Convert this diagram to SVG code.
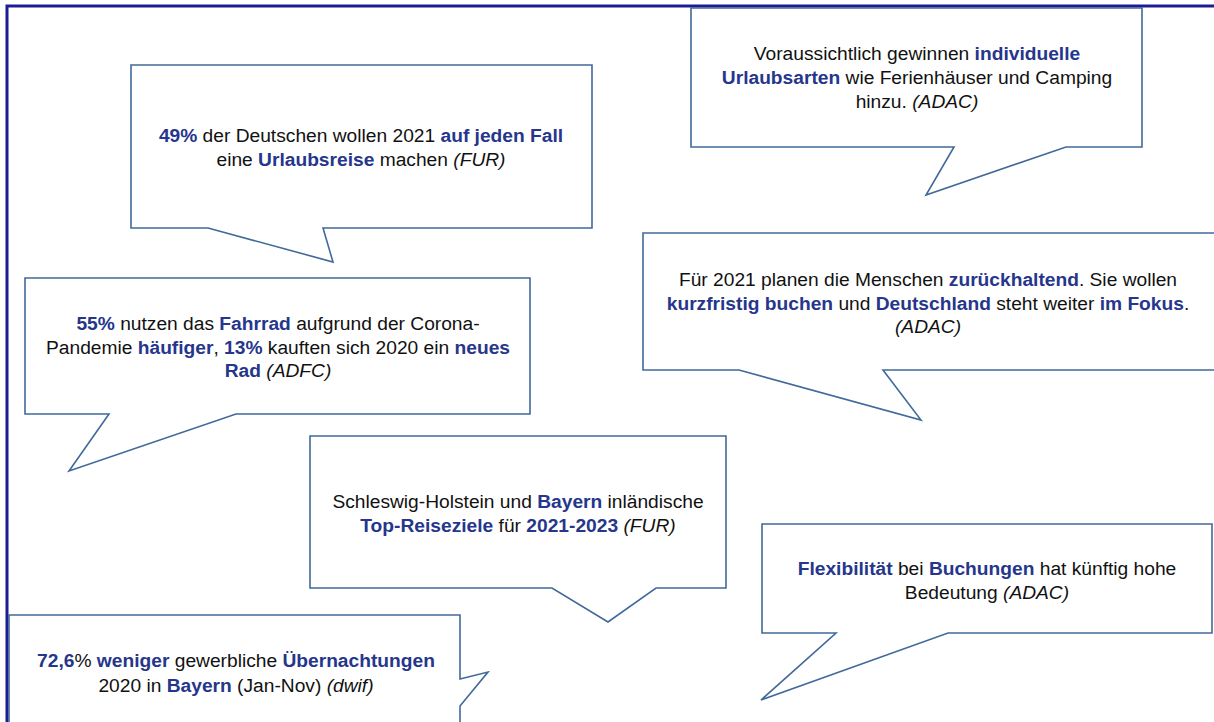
<svg xmlns="http://www.w3.org/2000/svg" width="1214" height="722" viewBox="0 0 1214 722">
<style>
.c{fill:#ffffff;stroke:#41699a;stroke-width:1.6;stroke-linejoin:miter}
text{font-family:"Liberation Sans",Arial,sans-serif;font-size:19.2px;fill:#111111;text-anchor:middle}
.b{font-weight:bold;fill:#25368c}
.i{font-style:italic}
.f{fill:none;stroke:#1c1c96;stroke-width:3}
</style>
<rect width="1214" height="722" fill="#ffffff"/>
<g id="frame"><path class="f" d="M7 722 V6 H1214"/></g>

<g id="n1">
<path class="c" d="M131 65 H592 V228 H323 L333 262 L208 228 H131 Z"/>
<text x="361" y="142"><tspan class="b">49%</tspan> der Deutschen wollen  2021 <tspan class="b">auf jeden Fall</tspan></text>
<text x="361" y="166">eine <tspan class="b">Urlaubsreise</tspan> machen <tspan class="i">(FUR)</tspan></text>
</g>

<g id="n2">
<path class="c" d="M691 8 H1142 V147 H1066 L926 195 L954 147 H691 Z"/>
<text x="917" y="60">Voraussichtlich gewinnen <tspan class="b">individuelle</tspan></text>
<text x="917" y="84"><tspan class="b">Urlaubsarten</tspan> wie Ferienhäuser und Camping</text>
<text x="917" y="108">hinzu. <tspan class="i">(ADAC)</tspan></text>
</g>

<g id="n3">
<path class="c" d="M25 278 H530 V414 H236 L69 471 L109 414 H25 Z"/>
<text x="278" y="330"><tspan class="b">55%</tspan> nutzen das <tspan class="b">Fahrrad</tspan> aufgrund der Corona-</text>
<text x="278" y="354">Pandemie <tspan class="b">häufiger</tspan>, <tspan class="b">13%</tspan> kauften sich 2020 ein <tspan class="b">neues</tspan></text>
<text x="278" y="377"><tspan class="b">Rad</tspan> <tspan class="i">(ADFC)</tspan></text>
</g>

<g id="n4">
<path class="c" d="M1216 233 H643 V370 H739 L921 420 L883 370 H1216"/>
<text x="928" y="286">Für 2021 planen die Menschen <tspan class="b">zurückhaltend</tspan>. Sie wollen</text>
<text x="928" y="310"><tspan class="b">kurzfristig buchen</tspan> und <tspan class="b">Deutschland</tspan> steht weiter <tspan class="b">im Fokus</tspan>.</text>
<text x="928" y="333" class="i">(ADAC)</text>
</g>

<g id="n5">
<path class="c" d="M310 436 H726 V588 H656 L608 622 L552 588 H310 Z"/>
<text x="518" y="508">Schleswig-Holstein  und <tspan class="b">Bayern</tspan> inländische</text>
<text x="518" y="532"><tspan class="b">Top-Reiseziele</tspan> für <tspan class="b">2021-2023</tspan> <tspan class="i">(FUR)</tspan></text>
</g>

<g id="n6">
<path class="c" d="M762 524 H1212 V633 H948 L761 700 L836 633 H762 Z"/>
<text x="987" y="575"><tspan class="b">Flexibilität</tspan> bei <tspan class="b">Buchungen</tspan> hat künftig hohe</text>
<text x="987" y="599">Bedeutung  <tspan class="i">(ADAC)</tspan></text>
</g>

<g id="n7">
<path class="c" d="M9 724 V615 H460 V679 L488 672 L460 706 V724"/>
<text x="236" y="667"><tspan class="b">72,6</tspan>% <tspan class="b">weniger</tspan> gewerbliche <tspan class="b">Übernachtungen</tspan></text>
<text x="236" y="692">2020 in <tspan class="b">Bayern</tspan> (Jan-Nov) <tspan class="i">(dwif)</tspan></text>
</g>
</svg>
